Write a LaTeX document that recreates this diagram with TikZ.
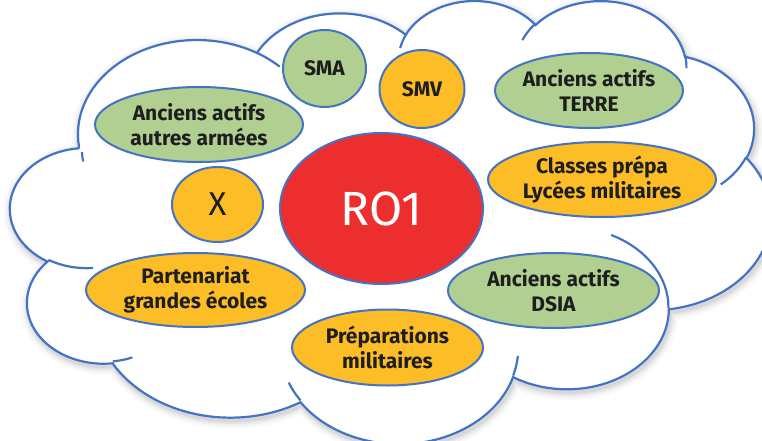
\documentclass[tikz,border=0pt]{standalone}
\usepackage{fontspec}
\setmainfont{Fira Sans}
\usetikzlibrary{shapes.geometric}

\definecolor{cloudblue}{RGB}{68,114,196}
\definecolor{leafgreen}{RGB}{176,207,145}
\definecolor{amber}{RGB}{252,189,39}
\definecolor{signalred}{RGB}{237,46,47}
\definecolor{inktext}{RGB}{30,30,30}

% Cloud outline built from elliptic arcs given in a 43200-unit frame
% (all frame values below are in thousands of units).
\newcommand\cldsx{17.604}
\newcommand\cldsy{10.254}
\newcommand\cldangles[4]{% wR hR start sweep  (ray angles, y pointing down)
  \pgfmathsetmacro\cldta{atan2((#1)*sin(#3),(#2)*cos(#3))}%
  \pgfmathsetmacro\cldtb{atan2((#1)*sin((#3)+(#4)),(#2)*cos((#3)+(#4)))}%
  \pgfmathsetmacro\cldd{(\cldtb)-(\cldta)}%
  \pgfmathsetmacro\cldd{(\cldd)+360*round(((#4)-(\cldd))/360)}%
  \pgfmathsetmacro\cldsa{-1*(\cldta)}%
  \pgfmathsetmacro\cldda{-1*(\cldd)}%
  \pgfmathsetmacro\cldrx{(#1)*\cldsx}%
  \pgfmathsetmacro\cldry{(#2)*\cldsy}%
}
\newcommand\cldouter[4]{\cldangles{#1}{#2}{#3}{#4}%
  \xdef\cldpath{\cldpath arc[start angle=\cldsa, delta angle=\cldda,
    x radius=\cldrx pt, y radius=\cldry pt]}}
\newcommand\cldinner[6]{\cldangles{#3}{#4}{#5}{#6}%
  \draw[cloudline] ({10.4+(#1)*\cldsx},{440.4-(#2)*\cldsy})
    arc[start angle=\cldsa, delta angle=\cldda,
        x radius=\cldrx pt, y radius=\cldry pt];}

\tikzset{
  cloudline/.style={draw=cloudblue, line width=2.2pt},
  bubble/.style={ellipse, draw=cloudblue, line width=2pt, inner sep=0pt,
    align=center, text=inktext,
    font=\bfseries\fontsize{21}{25}\selectfont},
  greenbub/.style={bubble, fill=leafgreen},
  amberbub/.style={bubble, fill=amber},
}

\begin{document}
\begin{tikzpicture}[x=1pt, y=1pt]
\useasboundingbox (0,0) rectangle (762,440);

% outline of the cloud
\gdef\cldpath{}
\cldouter{6.753}{9.190}{-190.48748}{123.78053}
\cldouter{5.333}{7.267}{-144.10238}{89.94523}
\cldouter{4.365}{5.945}{-145.80792}{99.72302}
\cldouter{4.857}{6.595}{-130.98607}{117.24173}
\cldouter{5.333}{7.273}{-78.70888}{109.02692}
\cldouter{6.775}{9.220}{-46.26725}{130.269}
\cldouter{5.785}{7.867}{0.62502}{114.03333}
\cldouter{6.752}{9.215}{22.4516}{115.17255}
\cldouter{7.720}{10.543}{66.24263}{75.71102}
\cldouter{4.360}{5.918}{-274.94208}{146.73557}
\cldouter{4.345}{5.945}{-246.8285}{152.51885}

% soft shadow
\foreach \w/\o in {16/0.025, 11/0.035, 7/0.045, 3.5/0.06}{
  \draw[line width=\w pt, black, opacity=\o, shift={(1.5,-3)}]
    (79.06,293.05) \cldpath -- cycle;
}
\fill[white] (79.06,293.05) \cldpath -- cycle;
\draw[cloudline] (79.06,293.05) \cldpath -- cycle;

% inner folds of the cloud
\cldinner{4.693}{26.177}{4.345}{5.945}{86.742}{26.4295}
\cldinner{6.928}{34.899}{4.360}{5.918}{73.6105}{11.4475}
\cldinner{16.478}{39.090}{6.752}{9.215}{137.6242}{14.0811}
\cldinner{28.827}{34.751}{6.752}{9.215}{6.4533}{15.9984}
\cldinner{34.129}{22.954}{5.785}{7.867}{-70.2924}{70.9174}
\cldinner{41.798}{15.354}{5.333}{7.273}{30.318}{27.7515}
\cldinner{38.324}{5.426}{4.857}{6.595}{-13.7443}{14.8589}
\cldinner{29.078}{3.952}{4.857}{6.595}{-149.1815}{18.1954}
\cldinner{22.141}{4.720}{4.365}{5.945}{-163.4943}{17.6864}
\cldinner{14.000}{5.192}{6.753}{9.190}{-66.707}{12.3194}
\cldinner{4.127}{15.789}{6.753}{9.190}{-190.48748}{7.749}

% bubbles
\node[greenbub, minimum width=83pt, minimum height=77pt] (sma) at (324.5,371.5) {SMA};
\node[amberbub, minimum width=85pt, minimum height=78pt] (smv) at (422,351) {SMV};
\node[greenbub, minimum width=208pt, minimum height=75pt] (autres) at (199,315.5)
  {Anciens actifs\\autres armées};
\node[greenbub, minimum width=188pt, minimum height=75pt] (terre) at (589,349.5)
  {Anciens actifs\\TERRE};
\node[amberbub, minimum width=228pt, minimum height=75pt] (prepa) at (602,260.5)
  {Classes prépa\\Lycées militaires};
\node[amberbub, minimum width=91pt, minimum height=75pt,
      font=\fontsize{33}{40}\selectfont] (x) at (217.5,235.5) {X};
\node[bubble, fill=signalred, text=white, minimum width=203pt, minimum height=151pt,
      font=\fontsize{48}{56}\selectfont] (ro1) at (381.5,231.5) {RO1};
\node[amberbub, minimum width=219pt, minimum height=74pt] (ecoles) at (195.5,150)
  {Partenariat\\grandes écoles};
\node[greenbub, minimum width=211pt, minimum height=75pt] (dsia) at (553.5,149.5)
  {Anciens actifs\\DSIA};
\node[amberbub, minimum width=191pt, minimum height=76pt] (pmil) at (387.5,92.5)
  {Préparations\\militaires};
\end{tikzpicture}
\end{document}
